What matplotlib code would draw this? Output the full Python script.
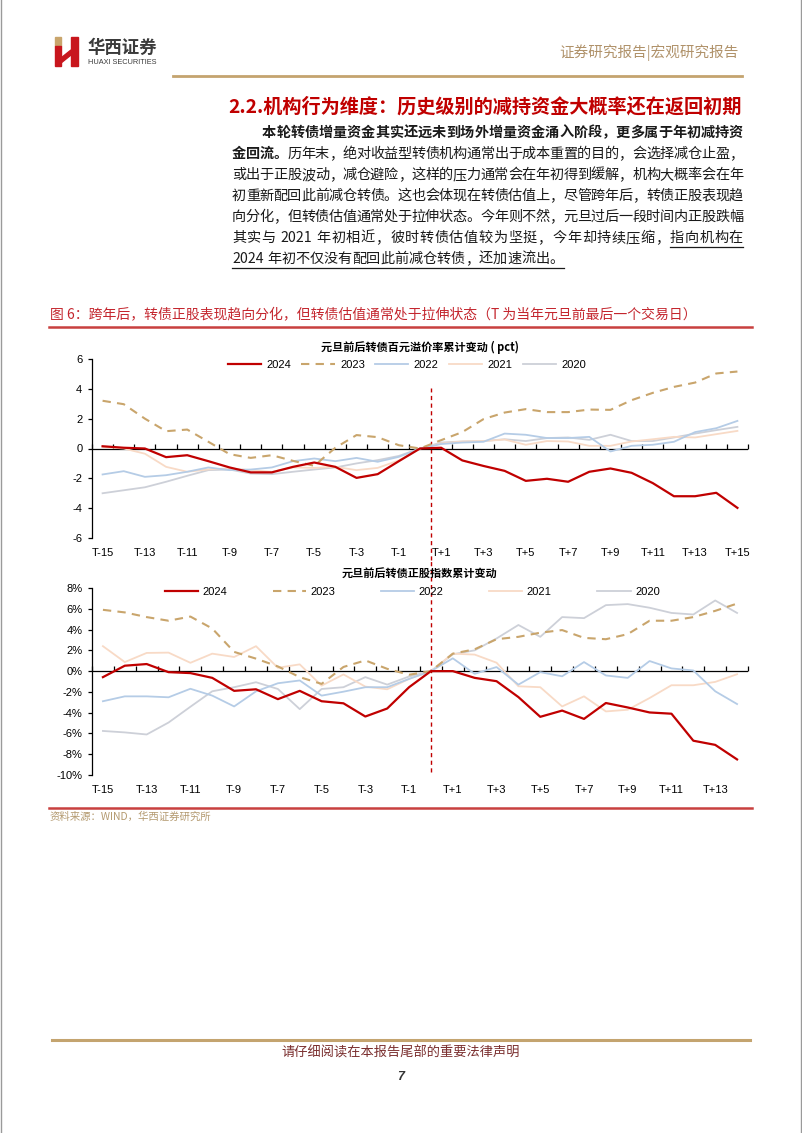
import numpy as np
import matplotlib
matplotlib.use("Agg")
import matplotlib.pyplot as plt
from matplotlib.lines import Line2D
from matplotlib.patches import Rectangle, Polygon
from matplotlib.ticker import FuncFormatter

plt.rcParams['font.family'] = ['Noto Sans CJK SC', 'DejaVu Sans']
NUM_FONT = ['Liberation Sans', 'Noto Sans CJK SC']

# ---- data: premium rate change (pct), T-15 .. T+15
cats_top = ['T-15', 'T-14', 'T-13', 'T-12', 'T-11', 'T-10', 'T-9', 'T-8', 'T-7', 'T-6',
            'T-5', 'T-4', 'T-3', 'T-2', 'T-1', 'T', 'T+1', 'T+2', 'T+3', 'T+4', 'T+5',
            'T+6', 'T+7', 'T+8', 'T+9', 'T+10', 'T+11', 'T+12', 'T+13', 'T+14', 'T+15']
prem_2024 = [0.15, 0.05, 0.0, -0.58, -0.45, -0.85, -1.27, -1.6, -1.6, -1.23, -0.94, -1.23,
             -1.97, -1.72, -0.85, 0.0, 0.05, -0.8, -1.17, -1.5, -2.17, -2.03, -2.23, -1.56,
             -1.34, -1.63, -2.32, -3.2, -3.2, -2.97, -3.98]
prem_2023 = [3.2, 2.97, 2.0, 1.16, 1.27, 0.45, -0.38, -0.63, -0.45, -0.83, -1.16, 0.05,
             0.9, 0.76, 0.22, 0.0, 0.56, 1.1, 1.97, 2.41, 2.64, 2.44, 2.44, 2.61, 2.59,
             3.24, 3.73, 4.13, 4.42, 5.03, 5.16]
prem_2022 = [-1.74, -1.52, -1.9, -1.79, -1.56, -1.27, -1.45, -1.41, -1.27, -0.85, -0.67,
             -0.85, -0.63, -0.89, -0.56, 0.0, 0.3, 0.4, 0.45, 1.0, 0.92, 0.7, 0.7, 0.78,
             -0.2, 0.18, 0.25, 0.45, 1.1, 1.36, 1.85]
prem_2021 = [0.1, 0.0, -0.35, -1.23, -1.56, -1.4, -1.34, -1.45, -1.56, -1.27, -1.3, -1.23,
             -1.45, -1.3, -0.8, 0.0, 0.34, 0.47, 0.5, 0.6, 0.25, 0.5, 0.47, 0.18, 0.18,
             0.47, 0.62, 0.78, 0.74, 0.96, 1.18]
prem_2020 = [-3.0, -2.8, -2.6, -2.23, -1.83, -1.45, -1.41, -1.68, -1.72, -1.56, -1.41,
             -1.27, -1.0, -0.78, -0.5, 0.0, 0.4, 0.47, 0.5, 0.62, 0.5, 0.7, 0.74, 0.58,
             0.92, 0.5, 0.5, 0.74, 1.0, 1.23, 1.45]

# ---- data: underlying stock index change (%), T-15 .. T+14
cats_bot = cats_top[:-1]
stk_2024 = [-0.58, 0.52, 0.68, -0.1, -0.19, -0.65, -1.9, -1.75, -2.7, -1.9, -2.9, -3.1,
            -4.37, -3.6, -1.55, 0.0, 0.0, -0.65, -0.97, -2.5, -4.4, -3.8, -4.6, -3.07,
            -3.5, -3.98, -4.1, -6.7, -7.1, -8.5]
stk_2023 = [5.9, 5.65, 5.2, 4.85, 5.25, 4.1, 1.85, 1.2, 0.45, -0.58, -1.23, 0.4, 1.03,
            0.22, -0.35, 0.0, 1.68, 2.1, 3.07, 3.3, 3.7, 3.95, 3.2, 3.07, 3.56, 4.85,
            4.85, 5.2, 5.8, 6.5]
stk_2022 = [-2.9, -2.43, -2.43, -2.52, -1.7, -2.36, -3.4, -1.95, -1.17, -0.9, -2.36,
            -1.98, -1.55, -1.55, -0.75, 0.0, 1.23, -0.26, 0.39, -1.3, -0.1, -0.5, 0.87,
            -0.42, -0.65, 0.97, 0.26, 0.06, -1.94, -3.17]
stk_2021 = [2.4, 0.87, 1.75, 1.78, 0.8, 1.68, 1.36, 2.4, 0.32, 0.65, -1.4, -0.32, -1.49,
            -1.75, -0.75, 0.0, 1.68, 1.59, 0.81, -1.46, -1.55, -3.4, -2.43, -3.88, -3.72,
            -2.59, -1.36, -1.36, -1.04, -0.3]
stk_2020 = [-5.76, -5.9, -6.1, -4.95, -3.43, -1.94, -1.55, -1.07, -1.72, -3.66, -1.72,
            -1.55, -0.58, -1.3, -0.52, 0.0, 1.62, 2.0, 3.14, 4.44, 3.3, 5.2, 5.1, 6.35,
            6.45, 6.1, 5.6, 5.45, 6.8, 5.6]

years = ['2024', '2023', '2022', '2021', '2020']
colors = ['#c00000', '#c9a56c', '#b5cce6', '#f8dac6', '#cdd0d8']

W, H = 802, 1133
fig = plt.figure(figsize=(W / 100, H / 100), dpi=100)
fig.patch.set_facecolor('white')


def fx(x):
    return x / W


def fy(y):
    return 1 - y / H


def hline(x0, x1, y, color, lw):
    fig.add_artist(Line2D([fx(x0), fx(x1)], [fy(y), fy(y)], color=color, lw=lw))


# page frame (left / right edges)
fig.add_artist(Line2D([fx(0.5), fx(0.5)], [0, 1], color='#9a9a9a', lw=1.0))
fig.add_artist(Line2D([fx(800.5), fx(800.5)], [0, 1], color='#9a9a9a', lw=1.0))

# ---- header / logo
fig.add_artist(Rectangle((fx(55), fy(46)), fx(6), 9 / H, color='#c9a56c'))
fig.add_artist(Rectangle((fx(55), fy(66)), fx(6), 20 / H, color='#c8161d'))
fig.add_artist(Rectangle((fx(71), fy(66)), fx(7), 29 / H, color='#c8161d'))
fig.add_artist(Polygon([(fx(61), fy(58)), (fx(71), fy(50)), (fx(71), fy(55)), (fx(61), fy(63))],
                       closed=True, color='#c8161d'))
fig.text(fx(87), fy(48), '华西证券', fontsize=12.5, fontweight='bold', color='#3a3a3a',
         va='center', ha='left')
fig.text(fx(88), fy(62), 'HUAXI SECURITIES', fontsize=5.3, color='#3a3a3a',
         va='center', ha='left', family=NUM_FONT)
fig.text(fx(739), fy(53), '证券研究报告|宏观研究报告', fontsize=10.5, color='#b0926a',
         va='center', ha='right')
hline(173, 742, 76, '#c4a46f', 2.0)

fig.text(fx(742), fy(107), '2.2.机构行为维度：历史级别的减持资金大概率还在返回初期',
         fontsize=13.8, fontweight='bold', color='#c00000', va='center', ha='right')

# ---- paragraph (justified, character by character)
renderer = fig.canvas.get_renderer()


def tokens_of(text):
    out = []
    buf = ''
    for ch in text:
        if ch.isascii() and ch != ' ':
            buf += ch
        else:
            if buf:
                out.append(buf)
                buf = ''
            out.append(ch)
    if buf:
        out.append(buf)
    return out


def put_line(x0, x1, y, segs, justify=True):
    items = []
    for text, bold, ul in segs:
        for tok in tokens_of(text):
            t = fig.text(0, fy(y), tok, fontsize=10.2,
                         fontweight='bold' if bold else 'normal',
                         color='#1a1a1a', va='center', ha='left')
            w = t.get_window_extent(renderer=renderer).width
            if tok == ' ':
                w = 3.5
            items.append([t, w, ul])
    natural = sum(it[1] for it in items)
    gap = (x1 - x0 - natural) / (len(items) - 1) if justify else 0.0
    x = x0
    ul_start = None
    ul_end = None
    for t, w, ul in items:
        t.set_x(fx(x))
        if ul:
            if ul_start is None:
                ul_start = x
            ul_end = x + w
        x += w + gap
    if ul_start is not None:
        hline(ul_start, ul_end, y + 9, '#1a1a1a', 0.9)


para = [
    (262, [('本轮转债增量资金其实还远未到场外增量资金涌入阶段，更多属于年初减持资', True, False)]),
    (232, [('金回流。', True, False),
           ('历年末，绝对收益型转债机构通常出于成本重置的目的，会选择减仓止盈，', False, False)]),
    (232, [('或出于正股波动，减仓避险，这样的压力通常会在年初得到缓解，机构大概率会在年', False, False)]),
    (232, [('初重新配回此前减仓转债。这也会体现在转债估值上，尽管跨年后，转债正股表现趋', False, False)]),
    (232, [('向分化，但转债估值通常处于拉伸状态。今年则不然，元旦过后一段时间内正股跌幅', False, False)]),
    (232, [('其实与 2021 年初相近，彼时转债估值较为坚挺，今年却持续压缩，', False, False),
           ('指向机构在', False, True)]),
    (232, [('2024 年初不仅没有配回此前减仓转债，还加速流出。', False, True)]),
]
for k, (x0, segs) in enumerate(para):
    put_line(x0, 743, 133 + k * 21, segs, justify=(k < len(para) - 1))

# ---- caption
fig.text(fx(50), fy(315), '图 6：跨年后，转债正股表现趋向分化，但转债估值通常处于拉伸状态（T 为当年元旦前最后一个交易日）',
         fontsize=10, color='#c4262e', va='center', ha='left')
hline(49, 752, 327, '#c8403f', 1.8)


# ---- charts
def style_chart(ax, n, label_idx, cats, ylim, yticks, fmt, title, title_y, vline_x, vy):
    ax.set_xlim(-0.5, n - 0.5)
    ax.set_ylim(*ylim)
    ax.set_yticks(yticks)
    ax.yaxis.set_major_formatter(FuncFormatter(fmt))
    for s in ['top', 'right', 'bottom']:
        ax.spines[s].set_visible(False)
    ax.spines['left'].set_linewidth(0.9)
    ax.tick_params(axis='y', direction='out', length=3, width=0.9, pad=4, labelsize=8)
    ax.set_xticks(label_idx)
    ax.set_xticklabels([cats[i] for i in label_idx])
    ax.tick_params(axis='x', length=0, pad=7, labelsize=8)
    for lab in ax.get_xticklabels() + ax.get_yticklabels():
        lab.set_family(NUM_FONT)
    # horizontal axis at zero with tick marks between categories
    ax.axhline(0, color='black', lw=0.9, zorder=2)
    ax.plot(np.arange(n + 1) - 0.5, np.zeros(n + 1), ls='none', marker=2, ms=3.5,
            mew=0.9, color='black', zorder=2, clip_on=False)
    ax.axvline(vline_x, ymin=vy[0], ymax=vy[1], color='#c00000', lw=1.0, ls=(0, (3, 2.5)),
               clip_on=False, zorder=1)
    ax.set_title(title, fontsize=8, fontweight='bold', y=title_y, pad=0)


def draw_lines(ax, x, series):
    for yr, col, vals in list(zip(years, colors, series))[::-1]:
        if yr == '2024':
            ax.plot(x, vals, color=col, lw=1.6, label=yr, zorder=5)
        elif yr == '2023':
            ax.plot(x, vals, color=col, lw=1.5, ls=(0, (4, 3)), label=yr, zorder=4)
        else:
            ax.plot(x, vals, color=col, lw=1.3, label=yr, zorder=3)
    h, l = ax.get_legend_handles_labels()
    return [h[l.index(y)] for y in years]


# top chart
ax1 = fig.add_axes([fx(92), fy(538), 656 / W, 179 / H])
handles1 = draw_lines(ax1, np.arange(len(cats_top)),
                      [prem_2024, prem_2023, prem_2022, prem_2021, prem_2020])
idx_top = [i for i in range(0, 15, 2)] + [i for i in range(16, 31, 2)]
style_chart(ax1, len(cats_top), idx_top, cats_top, (-6, 6), [-6, -4, -2, 0, 2, 4, 6],
            lambda v, p: '%d' % v, '元旦前后转债百元溢价率累计变动 ( pct)', 1.045,
            15.5, (-0.123, 0.838))
ax1.legend(handles1, years, loc='center', bbox_to_anchor=(0.48, 0.966), ncol=5,
           frameon=False, handlelength=3.0, handletextpad=0.5, columnspacing=0.9,
           prop={'family': NUM_FONT, 'size': 8})

# bottom chart
ax2 = fig.add_axes([fx(92), fy(775), 656 / W, 187 / H])
handles2 = draw_lines(ax2, np.arange(len(cats_bot)),
                      [stk_2024, stk_2023, stk_2022, stk_2021, stk_2020])
idx_bot = [i for i in range(0, 15, 2)] + [i for i in range(16, 30, 2)]
style_chart(ax2, len(cats_bot), idx_bot, cats_bot, (-10, 8), list(range(-10, 9, 2)),
            lambda v, p: '%d%%' % v, '元旦前后转债正股指数累计变动', 1.055,
            15, (0.016, 1.15))
ax2.legend(handles2, years, loc='center', bbox_to_anchor=(0.488, 0.979), ncol=5,
           frameon=False, handlelength=3.0, handletextpad=0.4, columnspacing=4.1,
           prop={'family': NUM_FONT, 'size': 8})

# ---- source
hline(49, 752, 808, '#c8403f', 1.8)
fig.text(fx(50), fy(817), '资料来源：WIND，华西证券研究所', fontsize=7.5, color='#b49a70',
         va='center', ha='left')

# ---- footer
hline(52, 750, 1040, '#c4a46f', 2.2)
fig.text(0.5, fy(1053), '请仔细阅读在本报告尾部的重要法律声明', fontsize=9.5, color='#7a2e2e',
         va='center', ha='center')
fig.text(0.5, fy(1077), '7', fontsize=9, fontweight='bold', style='italic', color='#333333',
         va='center', ha='center', family=NUM_FONT)

fig.savefig('out.png', dpi=100)
